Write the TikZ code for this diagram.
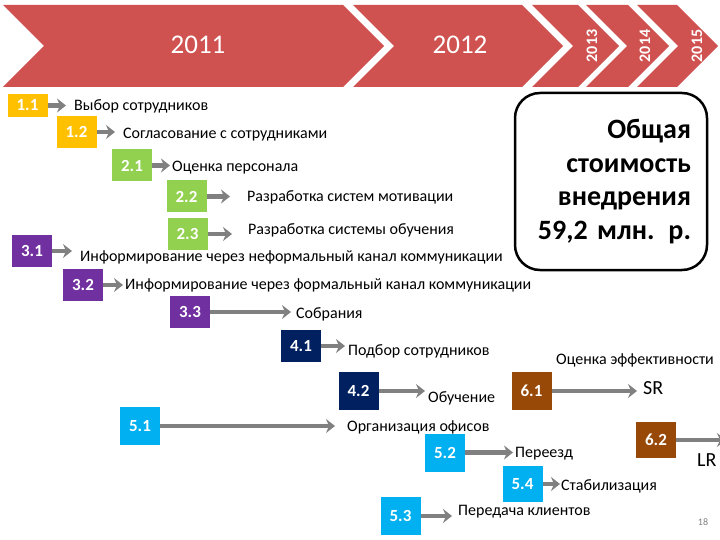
\documentclass[tikz,border=0pt]{standalone}
\usepackage{fontspec}
\setmainfont{Carlito}
\usepackage{tikz}
\usetikzlibrary{arrows.meta}
\definecolor{chevred}{RGB}{208,82,80}
\definecolor{taskyellow}{RGB}{255,192,0}
\definecolor{taskgreen}{RGB}{146,208,80}
\definecolor{taskpurple}{RGB}{112,48,160}
\definecolor{tasknavy}{RGB}{0,32,96}
\definecolor{taskblue}{RGB}{0,176,240}
\definecolor{taskbrown}{RGB}{152,72,7}
\definecolor{arrowgray}{RGB}{128,128,128}

\begin{document}
\begin{tikzpicture}[x=1pt, y=-1pt,
    chevron/.style={fill=chevred},
    yearbig/.style={text=white, font=\fontsize{27}{27}\selectfont},
    yearside/.style={text=white, font=\bfseries\fontsize{16}{16}\selectfont, rotate=90},
    task/.style={fill=#1, text=white, font=\bfseries\fontsize{17}{17}\selectfont,
      minimum width=40pt, minimum height=32pt, inner sep=0pt},
    what/.style={anchor=west, inner sep=0pt, font=\fontsize{16}{16}\selectfont},
    conn/.style={draw=arrowgray, line width=4.5pt, -{Stealth[length=9pt, width=14pt, inset=3pt]}},
    costbox/.style={draw, line width=2.5pt, rounded corners=25pt, minimum width=192pt,
      minimum height=177pt, text width=160pt, align=right,
      font=\bfseries\fontsize{28}{33.5}\selectfont}]
  \useasboundingbox (0,0) rectangle (720,540);

  \fill[chevron] (3,5) -- (343,5) -- (384,46) -- (343,87) -- (3,87) -- (44,46) -- cycle;
  \fill[chevron] (353,5) -- (522,5) -- (563,46) -- (522,87) -- (353,87) -- (394,46) -- cycle;
  \fill[chevron] (532,5) -- (578,5) -- (619,46) -- (578,87) -- (532,87) -- (573,46) -- cycle;
  \fill[chevron] (586,5) -- (628,5) -- (669,46) -- (628,87) -- (586,87) -- (627,46) -- cycle;
  \fill[chevron] (637,5) -- (677,5) -- (718,46) -- (677,87) -- (637,87) -- (678,46) -- cycle;
  \node[yearbig] (y2011) at (198,45) {2011};
  \node[yearbig] (y2012) at (460,45) {2012};
  \node[yearside] (y2013) at (592,46) {2013};
  \node[yearside] (y2014) at (645,46) {2014};
  \node[yearside] (y2015) at (697,46) {2015};

  \node[task=taskyellow, minimum height=23pt] (b11) at (27.5,105.5) {1.1};
  \node[task=taskyellow] (b12) at (76.5,132) {1.2};
  \node[task=taskgreen] (b21) at (132,165.5) {2.1};
  \node[task=taskgreen] (b22) at (186.5,196.5) {2.2};
  \node[task=taskgreen] (b23) at (187.5,234) {2.3};
  \node[task=taskpurple] (b31) at (32,251) {3.1};
  \node[task=taskpurple] (b32) at (83,285) {3.2};
  \node[task=taskpurple] (b33) at (190,312) {3.3};
  \node[task=tasknavy] (b41) at (301,346) {4.1};
  \node[task=tasknavy, minimum height=38pt] (b42) at (358.5,391) {4.2};
  \node[task=taskblue, minimum height=38pt] (b51) at (140,426) {5.1};
  \node[task=taskblue, minimum height=38pt] (b52) at (445,452.5) {5.2};
  \node[task=taskblue, minimum height=36pt] (b54) at (522.5,484) {5.4};
  \node[task=taskblue, minimum height=38pt] (b53) at (400.5,516) {5.3};
  \node[task=taskbrown, minimum height=38pt] (b61) at (531.5,391) {6.1};
  \node[task=taskbrown, minimum height=36pt] (b62) at (656,440) {6.2};

  \node[what] (t11) at (74,106) {Выбор сотрудников};
  \node[what] (t12) at (123,135) {Согласование с сотрудниками};
  \node[what] (t21) at (172,168) {Оценка персонала};
  \node[what] (t22) at (247,197) {Разработка систем мотивации};
  \node[what] (t23) at (248,230) {Разработка системы обучения};
  \node[what] (t31) at (80,257) {Информирование через неформальный канал коммуникации};
  \node[what] (t32) at (125,285) {Информирование через формальный канал коммуникации};
  \node[what] (t33) at (296,314) {Собрания};
  \node[what] (t41) at (348,351) {Подбор сотрудников};
  \node[what] (t42) at (428,398) {Обучение};
  \node[what] (t51) at (347,427) {Организация офисов};
  \node[what] (t52) at (515,454) {Переезд};
  \node[what] (t54) at (561,486) {Стабилизация};
  \node[what] (t53) at (458,512) {Передача клиентов};
  \node[what] (t61) at (556,360) {Оценка эффективности};
  \node[what, font=\fontsize{20}{20}\selectfont] (sr) at (643,388) {SR};
  \node[what, font=\fontsize{20}{20}\selectfont] (lr) at (697,460) {LR};
  \coordinate (lrend) at (726,440);

  \node[costbox] (cost) at (611,181.5) {Общая\\стоимость\\внедрения\\59,2 млн. р.};
  \node[text=arrowgray, font=\fontsize{10}{10}\selectfont] (page) at (703,522) {18};

  \draw[conn, shorten >=8pt] (b11) -- (b11 -| t11.west);
  \draw[conn, shorten >=8pt] (b12) -- (b12 -| t12.west);
  \draw[conn, shorten >=2pt] (b21) -- (b21 -| t21.west);
  \draw[conn, shorten >=17pt] (b22) -- (b22 -| t22.west);
  \draw[conn, shorten >=16pt] (b23) -- (b23 -| t23.west);
  \draw[conn, shorten >=8pt] (b31) -- (b31 -| t31.west);
  \draw[conn, shorten >=2pt] (b32) -- (b32 -| t32.west);
  \draw[conn, shorten >=5pt] (b33) -- (b33 -| t33.west);
  \draw[conn, shorten >=3pt] (b41) -- (b41 -| t41.west);
  \draw[conn, shorten >=3pt] (b42) -- (b42 -| t42.west);
  \draw[conn, shorten >=12pt] (b51) -- (b51 -| t51.west);
  \draw[conn, shorten >=2pt] (b52) -- (b52 -| t52.west);
  \draw[conn, shorten >=1pt] (b54) -- (b54 -| t54.west);
  \draw[conn, shorten >=6pt] (b53) -- (b53 -| t53.west);
  \draw[conn, shorten >=6pt] (b61) -- (b61 -| sr.west);
  \draw[conn] (b62) -- (lrend);
\end{tikzpicture}
\end{document}
